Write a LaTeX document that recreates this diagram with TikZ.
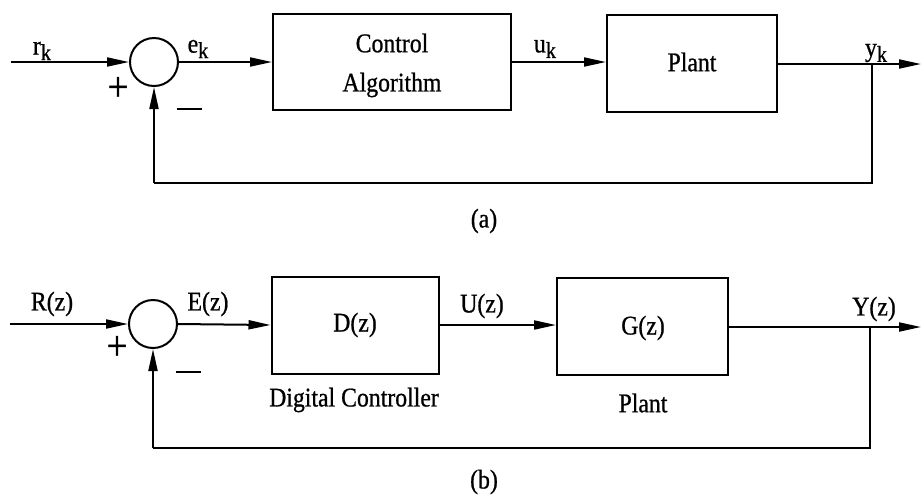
\documentclass[tikz,border=0pt]{standalone}
\usepackage{fontspec}
\setmainfont{Liberation Serif}[FakeStretch=0.88,FakeBold=0.8]
\usetikzlibrary{arrows.meta}
\newcommand{\subk}{\raisebox{-0.45ex}{\fontsize{23}{23}\selectfont k}}
\begin{document}
\begin{tikzpicture}[x=1pt,y=-1pt,
  blk/.style={draw,line width=2pt,minimum width=#1,inner sep=0pt},
  sumc/.style={draw,circle,line width=2pt,minimum size=48pt,inner sep=0pt},
  sig/.style={line width=2pt,-{Triangle[length=22pt,width=9pt]}},
  ln/.style={line width=2pt},
  lbl/.style={font=\fontsize{27}{29}\selectfont,inner sep=0pt},
  sgn/.style={font=\fontsize{42}{42}\selectfont,inner sep=0pt}]
\useasboundingbox (0,0) rectangle (921,496);
% ---------- (a)
\coordinate (ina) at (11,62);
\node[sumc] (sa) at (154,62) {};
\node[blk=238pt,minimum height=96pt] (ca) at (392,62) {};
\node[blk=170pt,minimum height=97pt] (pa) at (692,63.5) {};
\coordinate (outa) at (921,64);
\coordinate (bra) at (872,64);
\coordinate (fba1) at (872,183);
\coordinate (fba2) at (154,183);
\draw[sig] (ina) -- (sa.west);
\draw[sig] (sa.east) -- (ca.west);
\draw[sig] (ca.east) -- (ca.east -| pa.west);
\draw[sig] (pa.east |- outa) -- (outa);
\draw[ln] (bra) -- (fba1) -- (fba2);
\draw[sig] (fba2) -- (sa.south);
\node[lbl] (rk) at (42,51) {r\subk};
\node[lbl] (ek) at (198,49) {e\subk};
\node[lbl] (uk) at (545,49) {u\subk};
\node[lbl] (yk) at (876,53) {y\subk};
\node[sgn] (pla) at (118,89) {+};
\node[lbl] (mia) at (189,109) {\rule{25pt}{1.5pt}};
\node[lbl] (t1) at (392,43) {Control};
\node[lbl] (t2) at (392,85) {Algorithm};
\node[lbl] (t3) at (692,62) {Plant};
\node[lbl] (capa) at (484,221) {(a)};
% ---------- (b)
\coordinate (inb) at (10,324);
\node[sumc] (sb) at (153,324) {};
\node[blk=167pt,minimum height=97pt] (db) at (355,325) {};
\node[blk=171pt,minimum height=97pt] (gb) at (642.5,326.5) {};
\coordinate (outb) at (921,327);
\coordinate (brb) at (870,327);
\coordinate (fbb1) at (870,448);
\coordinate (fbb2) at (153,448);
\draw[sig] (inb) -- (sb.west);
\draw[sig] (sb.east) -- (db.west);
\draw[sig] (db.east) -- (db.east -| gb.west);
\draw[sig] (gb.east |- outb) -- (outb);
\draw[ln] (brb) -- (fbb1) -- (fbb2);
\draw[sig] (fbb2) -- (sb.south);
\node[lbl] (R) at (52,304) {R(z)};
\node[lbl] (E) at (208,304) {E(z)};
\node[lbl] (U) at (482,306) {U(z)};
\node[lbl] (Y) at (874,309) {Y(z)};
\node[sgn] (plb) at (117,348) {+};
\node[lbl] (mib) at (188,372) {\rule{25pt}{1.5pt}};
\node[lbl] (D) at (355,325) {D(z)};
\node[lbl] (G) at (643,328) {G(z)};
\node[lbl] (dc) at (354,400) {Digital Controller};
\node[lbl] (pb) at (643,403) {Plant};
\node[lbl] (capb) at (484,482) {(b)};
\end{tikzpicture}
\end{document}
